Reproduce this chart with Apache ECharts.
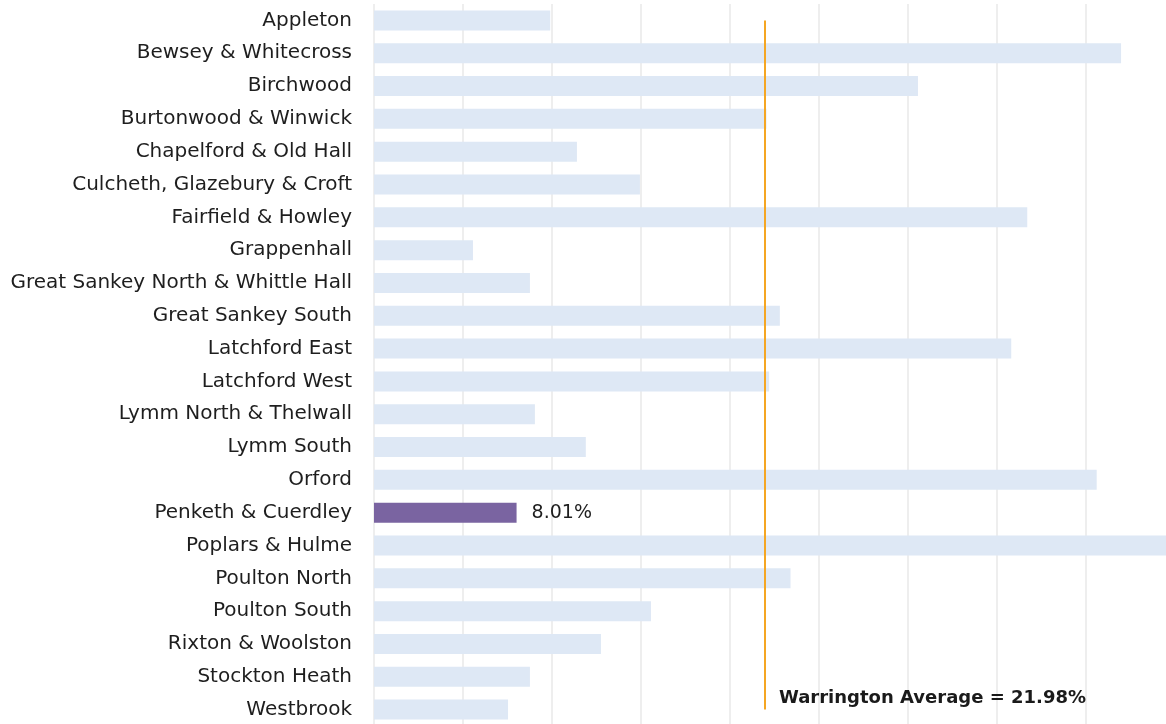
<!DOCTYPE html>
<html>
<head>
<meta charset="utf-8">
<script src="https://cdn.jsdelivr.net/npm/echarts@6/dist/echarts.min.js"></script>
<style>
  html, body { margin: 0; padding: 0; background: #fff; }
  #main { width: 1166px; height: 724px; }
</style>
</head>
<body>
<div id="main"></div>
<script>
const wards = ['Appleton', 'Bewsey & Whitecross', 'Birchwood', 'Burtonwood & Winwick',
  'Chapelford & Old Hall', 'Culcheth, Glazebury & Croft', 'Fairfield & Howley', 'Grappenhall',
  'Great Sankey North & Whittle Hall', 'Great Sankey South', 'Latchford East', 'Latchford West',
  'Lymm North & Thelwall', 'Lymm South', 'Orford', 'Penketh & Cuerdley', 'Poplars & Hulme',
  'Poulton North', 'Poulton South', 'Rixton & Woolston', 'Stockton Heath', 'Westbrook'];
const rates = [9.9, 41.97, 30.56, 22.05, 11.4, 14.94, 36.7, 5.56, 8.76, 22.8, 35.8, 22.2,
  9.04, 11.9, 40.6, 8.01, 44.9, 23.4, 15.56, 12.75, 8.76, 7.53];
const highlightWard = 'Penketh & Cuerdley';
const average = 21.98;

const chart = echarts.init(document.getElementById('main'));

const barData = rates.map(function (v, i) {
  if (wards[i] === highlightWard) {
    return {
      value: v,
      itemStyle: { color: '#7A64A1' },
      label: {
        show: true, position: 'right', distance: 15,
        formatter: function (p) { return p.value.toFixed(2) + '%'; },
        fontFamily: 'DejaVu Sans', fontSize: 19, color: '#1e1e1e'
      }
    };
  }
  return v;
});

const option = {
  animation: false,
  grid: {
    left: 374, width: 801, top: 4, height: 722,
    containLabel: false, outerBoundsMode: 'none'
  },
  xAxis: {
    type: 'value',
    min: 0,
    max: 45,
    interval: 5,
    axisLabel: { show: false },
    axisLine: { show: false },
    axisTick: { show: false },
    splitLine: { lineStyle: { color: '#e8e8e8', width: 1.5 } }
  },
  yAxis: {
    type: 'category',
    data: wards,
    inverse: true,
    axisLine: { show: false },
    axisTick: { show: false },
    axisLabel: { margin: 22, fontFamily: 'DejaVu Sans', fontSize: 20, color: '#1e1e1e' }
  },
  series: [{
    type: 'bar',
    data: barData,
    barWidth: 20,
    itemStyle: { color: '#DEE8F5' },
    markLine: {
      symbol: 'none',
      silent: true,
      label: { show: false },
      lineStyle: { color: '#F5A623', width: 2, type: 'solid' },
      data: [[{ coord: [average, wards[0]] }, { coord: [average, wards[wards.length - 1]] }]]
    }
  }],
  graphic: [{
    type: 'text',
    z: 100,
    left: 779,
    top: 689,
    style: {
      text: 'Warrington Average = ' + average.toFixed(2) + '%',
      font: 'bold 18px "DejaVu Sans"',
      fill: '#1a1a1a'
    }
  }]
};

chart.setOption(option);
</script>
</body>
</html>
